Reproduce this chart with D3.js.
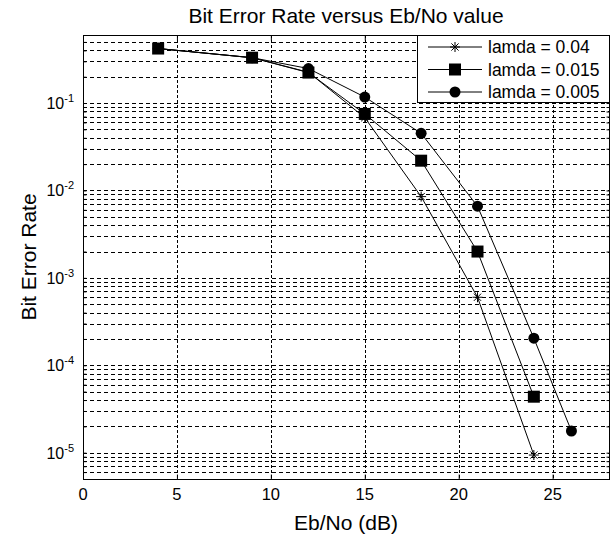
<!DOCTYPE html>
<html>
<head>
<meta charset="utf-8">
<script src="https://cdn.jsdelivr.net/npm/d3@7"></script>
<style>
  body { margin: 0; background: #fff; }
  text { font-family: "Liberation Sans", Arial, Helvetica, sans-serif; fill: #000; }
</style>
</head>
<body>
<div id="chart"></div>
<script>
// data
var snr04 = [4, 9, 12, 15, 18, 21, 24];
var ber04 = [0.42, 0.33, 0.225, 0.068, 0.0085, 6.0e-4, 9.4e-6];

var snr015 = [4, 9, 12, 15, 18, 21, 24];
var ber015 = [0.42, 0.33, 0.223, 0.075, 0.0219, 0.0020, 4.37e-5];

var snr005 = [4, 9, 12, 15, 18, 21, 24, 26];
var ber005 = [0.42, 0.33, 0.248, 0.117, 0.045, 0.0066, 2.04e-4, 1.77e-5];

var xTicks = [0, 5, 10, 15, 20, 25];
var yDecades = [1e-1, 1e-2, 1e-3, 1e-4, 1e-5];
var yDecadeExp = ["-1", "-2", "-3", "-4", "-5"];
var legendLabels = ["lamda = 0.04", "lamda = 0.015", "lamda = 0.005"];

var title = "Bit Error Rate versus Eb/No value";
var xTitle = "Eb/No (dB)";
var yTitle = "Bit Error Rate";

var w = 616;
var h = 538;
// plot box (don't use "top" as a global, it clashes with window.top)
var padL = 83, padR = 609, padT = 35, padB = 479;

var svg = d3.select("#chart")
            .append("svg")
            .attr("width", w)
            .attr("height", h);

var xScale = d3.scaleLinear()
               .domain([0, 28])
               .range([padL, padR]);

var yScale = d3.scaleLog()
               .domain([5e-6, 0.6])
               .range([padB, padT]);

// minor + major log grid values inside the domain
var yGrid = [];
for (var e = -6; e <= 0; e++) {
  for (var m = 1; m <= 9; m++) {
    var v = m * Math.pow(10, e);
    if (v >= 5e-6 * 1.0001 && v <= 0.6 / 1.0001) yGrid.push(v);
  }
}

// horizontal grid
svg.append("g")
   .selectAll("line")
   .data(yGrid)
   .enter()
   .append("line")
   .attr("x1", padL)
   .attr("x2", padR)
   .attr("y1", function(d) { return Math.round(yScale(d)) + 0.5; })
   .attr("y2", function(d) { return Math.round(yScale(d)) + 0.5; })
   .attr("stroke", "#000")
   .attr("stroke-width", 1)
   .attr("stroke-dasharray", "4,3");

// vertical grid
svg.append("g")
   .selectAll("line")
   .data(xTicks.slice(1))
   .enter()
   .append("line")
   .attr("x1", function(d) { return Math.round(xScale(d)) + 0.5; })
   .attr("x2", function(d) { return Math.round(xScale(d)) + 0.5; })
   .attr("y1", padT)
   .attr("y2", padB)
   .attr("stroke", "#000")
   .attr("stroke-width", 1)
   .attr("stroke-dasharray", "3,2");

// axes box
svg.append("rect")
   .attr("x", padL + 0.5)
   .attr("y", padT + 0.5)
   .attr("width", padR - padL)
   .attr("height", padB - padT)
   .attr("fill", "none")
   .attr("stroke", "#000")
   .attr("stroke-width", 1);

// inward tick marks
var xAxisB = d3.axisBottom(xScale).tickValues(xTicks).tickSize(-5).tickFormat("");
var xAxisT = d3.axisTop(xScale).tickValues(xTicks).tickSize(-5).tickFormat("");
svg.append("g").attr("transform", "translate(0," + (padB + 0.5) + ")").call(xAxisB);
svg.append("g").attr("transform", "translate(0," + (padT + 0.5) + ")").call(xAxisT);
var yAxisL = d3.axisLeft(yScale).tickValues(yGrid).tickSize(-3).tickFormat("");
var yAxisR = d3.axisRight(yScale).tickValues(yGrid).tickSize(-3).tickFormat("");
svg.append("g").attr("transform", "translate(" + (padL + 0.5) + ",0)").call(yAxisL);
svg.append("g").attr("transform", "translate(" + (padR + 0.5) + ",0)").call(yAxisR);
svg.selectAll(".domain").remove();
svg.selectAll(".tick line").attr("stroke", "#000");

// x tick labels
svg.append("g")
   .selectAll("text")
   .data(xTicks)
   .enter()
   .append("text")
   .attr("x", function(d) { return xScale(d); })
   .attr("y", 500)
   .attr("text-anchor", "middle")
   .attr("font-size", "16.5px")
   .text(function(d) { return d; });

// y tick labels 10^n
var yl = svg.append("g")
   .selectAll("text")
   .data(yDecades)
   .enter()
   .append("text")
   .attr("x", 74)
   .attr("y", function(d) { return yScale(d) + 6; })
   .attr("text-anchor", "end")
   .attr("font-size", "16px");
yl.append("tspan").text("10");
yl.append("tspan")
  .attr("dy", -7)
  .attr("font-size", "11px")
  .text(function(d, i) { return yDecadeExp[i]; });

// titles
svg.append("text")
   .attr("x", (padL + padR) / 2)
   .attr("y", 23)
   .attr("text-anchor", "middle")
   .attr("font-size", "21px")
   .text(title);

svg.append("text")
   .attr("x", (padL + padR) / 2)
   .attr("y", 530)
   .attr("text-anchor", "middle")
   .attr("font-size", "21px")
   .text(xTitle);

svg.append("text")
   .attr("transform", "translate(36," + ((padT + padB) / 2) + ") rotate(-90)")
   .attr("text-anchor", "middle")
   .attr("font-size", "21px")
   .text(yTitle);

// markers
function starPath(r) {
  var d = r * 0.72;
  return "M" + (-r) + ",0L" + r + ",0M0," + (-r) + "L0," + r +
         "M" + (-d) + "," + (-d) + "L" + d + "," + d +
         "M" + (-d) + "," + d + "L" + d + "," + (-d);
}

function drawMarker(g, type, x, y) {
  if (type === "star") {
    g.append("path")
     .attr("d", starPath(5))
     .attr("transform", "translate(" + x + "," + y + ")")
     .attr("stroke", "#000")
     .attr("stroke-width", 1)
     .attr("fill", "none");
  } else if (type === "square") {
    g.append("rect")
     .attr("x", x - 6)
     .attr("y", y - 6)
     .attr("width", 12)
     .attr("height", 12)
     .attr("fill", "#000");
  } else {
    g.append("circle")
     .attr("cx", x)
     .attr("cy", y)
     .attr("r", 5.5)
     .attr("fill", "#000");
  }
}

var series = [
  { xs: snr005, ys: ber005, marker: "circle" },
  { xs: snr015, ys: ber015, marker: "square" },
  { xs: snr04, ys: ber04, marker: "star" }
];

var line = d3.line()
             .x(function(d) { return xScale(d[0]); })
             .y(function(d) { return yScale(d[1]); });

series.forEach(function(s) {
  var pts = s.xs.map(function(x, i) { return [x, s.ys[i]]; });
  svg.append("path")
     .datum(pts)
     .attr("d", line)
     .attr("fill", "none")
     .attr("stroke", "#000")
     .attr("stroke-width", 1);
});

series.forEach(function(s) {
  var g = svg.append("g");
  s.xs.forEach(function(x, i) {
    drawMarker(g, s.marker, xScale(x), yScale(s.ys[i]));
  });
});

// legend
var legendMarkers = ["star", "square", "circle"];
var lg = svg.append("g");
lg.append("rect")
  .attr("x", 417.5)
  .attr("y", padT + 0.5)
  .attr("width", padR - 417)
  .attr("height", 67)
  .attr("fill", "#fff")
  .attr("stroke", "#000")
  .attr("stroke-width", 1);

legendLabels.forEach(function(lab, i) {
  var yy = 47 + i * 22.5;
  lg.append("line")
    .attr("x1", 428)
    .attr("x2", 482)
    .attr("y1", yy)
    .attr("y2", yy)
    .attr("stroke", "#000")
    .attr("stroke-width", 1);
  drawMarker(lg, legendMarkers[i], 455, yy);
  lg.append("text")
    .attr("x", 488)
    .attr("y", yy + 6)
    .attr("font-size", "17.5px")
    .text(lab);
});
</script>
</body>
</html>
